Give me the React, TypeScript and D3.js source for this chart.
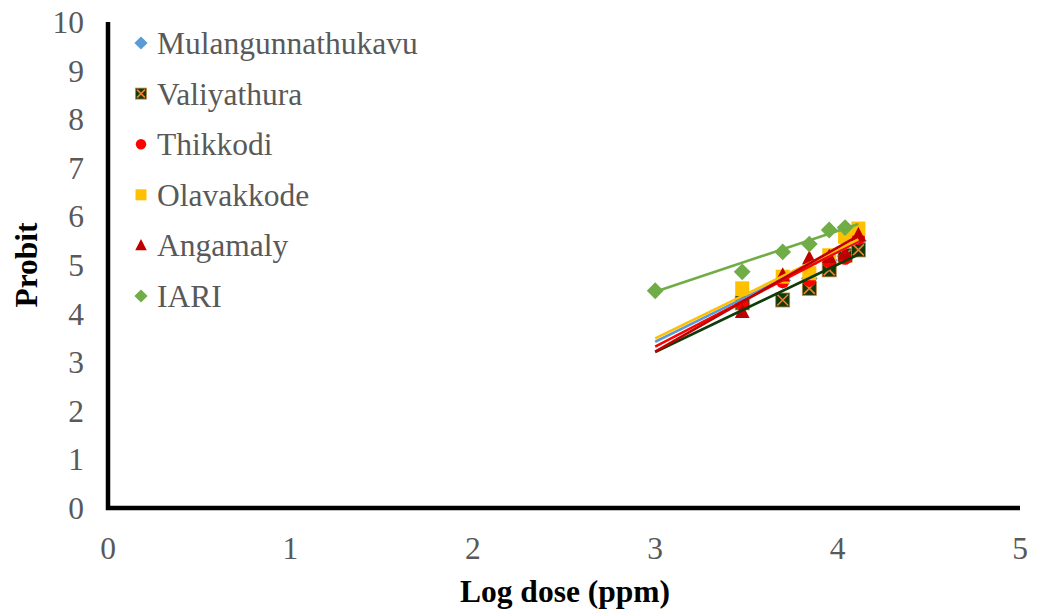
import React from "react";
import * as d3 from "d3";

// Log dose (ppm) for the field populations and for the IARI reference strain
const logDose = [3.477, 3.699, 3.845, 3.954, 4.041, 4.114];
const iariDose = [3, 3.477, 3.699, 3.845, 3.954, 4.041];

// Probit responses
const mulangunnathukavu = [4.2, 4.68, 4.72, 5.1, 5.18, 5.5];
const valiyathura = [4.22, 4.28, 4.52, 4.9, 5.2, 5.31];
const thikkodi = [4.2, 4.66, 4.69, 5.07, 5.14, 5.55];
const olavakkode = [4.52, 4.76, 4.83, 5.2, 5.58, 5.75];
const angamaly = [4.04, 4.79, 5.14, 5.17, 5.24, 5.62];
const iari = [4.47, 4.86, 5.27, 5.43, 5.72, 5.77];

// Linear trendlines: probit = intercept + slope * log dose, drawn over the range
const trendIntercept = [-2.13, -2.19, -2.53, -2.0, -3.2, 0.7];
const trendSlope = [1.85, 1.8, 1.95, 1.83, 2.14, 1.25];
const trendRange = [3, 4.114];

const seriesNames = ["Mulangunnathukavu", "Valiyathura", "Thikkodi", "Olavakkode", "Angamaly", "IARI"];

const xTicks = [0, 1, 2, 3, 4, 5];
const yTicks = [0, 1, 2, 3, 4, 5, 6, 7, 8, 9, 10];

type Shape = "diamond" | "xsquare" | "circle" | "square" | "triangle";

const series = [
  { name: seriesNames[0], x: logDose, y: mulangunnathukavu, shape: "diamond" as Shape, color: "#5B9BD5" },
  { name: seriesNames[1], x: logDose, y: valiyathura, shape: "xsquare" as Shape, color: "#0E3B0A" },
  { name: seriesNames[2], x: logDose, y: thikkodi, shape: "circle" as Shape, color: "#FF0000" },
  { name: seriesNames[3], x: logDose, y: olavakkode, shape: "square" as Shape, color: "#FFC000" },
  { name: seriesNames[4], x: logDose, y: angamaly, shape: "triangle" as Shape, color: "#C00000" },
  { name: seriesNames[5], x: iariDose, y: iari, shape: "diamond" as Shape, color: "#70AD47" },
];

const FONT = '"Liberation Serif", "Times New Roman", "DejaVu Serif", serif';
const FS = 31.5;

function Marker({ shape, color, cx, cy, s }: { shape: Shape; color: string; cx: number; cy: number; s: number }) {
  const h = s / 2;
  switch (shape) {
    case "diamond":
      return <path d={`M${cx},${cy - h * 1.2}L${cx + h * 1.2},${cy}L${cx},${cy + h * 1.2}L${cx - h * 1.2},${cy}Z`} fill={color} />;
    case "circle":
      return <circle cx={cx} cy={cy} r={h * 0.95} fill={color} />;
    case "square":
      return <rect x={cx - h} y={cy - h} width={s} height={s} fill={color} />;
    case "triangle":
      return <path d={`M${cx},${cy - h * 1.15}L${cx + h * 1.05},${cy + h * 0.9}L${cx - h * 1.05},${cy + h * 0.9}Z`} fill={color} />;
    case "xsquare":
      return (
        <g>
          <rect x={cx - h} y={cy - h} width={s} height={s} fill={color} stroke="#C0853A" strokeWidth={0.8} />
          <path
            d={`M${cx - h + 1.5},${cy - h + 1.5}L${cx + h - 1.5},${cy + h - 1.5}M${cx + h - 1.5},${cy - h + 1.5}L${cx - h + 1.5},${cy + h - 1.5}`}
            stroke="#ED7D31"
            strokeWidth={1.6}
          />
        </g>
      );
  }
}

export default function App() {
  const width = 1037;
  const height = 616;
  const x = d3.scaleLinear().domain([0, 5]).range([108, 1020]);
  const y = d3.scaleLinear().domain([0, 10]).range([508, 22]);

  return (
    <svg
      width={width}
      height={height}
      style={{ position: "absolute", left: 0, top: 0, background: "#fff", fontFamily: FONT }}
    >
      {/* tick labels */}
      {yTicks.map((t) => (
        <text key={`y${t}`} x={84} y={y(t)} dy="0.35em" textAnchor="end" fontSize={FS} fill="#595959">
          {t}
        </text>
      ))}
      {xTicks.map((t) => (
        <text key={`x${t}`} x={x(t)} y={548} dy="0.35em" textAnchor="middle" fontSize={FS} fill="#595959">
          {t}
        </text>
      ))}

      {/* markers */}
      {series.map((s) => (
        <g key={s.name}>
          {s.x.map((xv, i) => (
            <Marker key={i} shape={s.shape} color={s.color} cx={x(xv)} cy={y(s.y[i])} s={14} />
          ))}
        </g>
      ))}

      {/* trendlines */}
      {series.map((s, k) => {
        const f = (v: number) => trendIntercept[k] + trendSlope[k] * v;
        const d = d3
          .line<number>()
          .x((v) => x(v))
          .y((v) => y(f(v)))(trendRange);
        return <path key={`t${k}`} d={d || ""} stroke={s.color} strokeWidth={2.6} fill="none" />;
      })}

      {/* axes */}
      <path d={`M${x(0)},${y(10)}V${y(0)}H${x(5)}`} stroke="#000" strokeWidth={4.5} fill="none" />

      {/* axis titles */}
      <text transform="translate(26,265) rotate(-90)" textAnchor="middle" dy="0.35em" fontSize={FS} fontWeight="bold" fill="#000">
        Probit
      </text>
      <text x={565} y={591} textAnchor="middle" dy="0.35em" fontSize={FS} fontWeight="bold" fill="#000">
        Log dose (ppm)
      </text>

      {/* legend */}
      {series.map((s, i) => {
        const ly = 43 + i * 50.6;
        return (
          <g key={`l${i}`}>
            <Marker shape={s.shape} color={s.color} cx={141} cy={ly} s={11} />
            <text x={157} y={ly} dy="0.35em" fontSize={FS} fill="#595959">
              {s.name}
            </text>
          </g>
        );
      })}
    </svg>
  );
}
